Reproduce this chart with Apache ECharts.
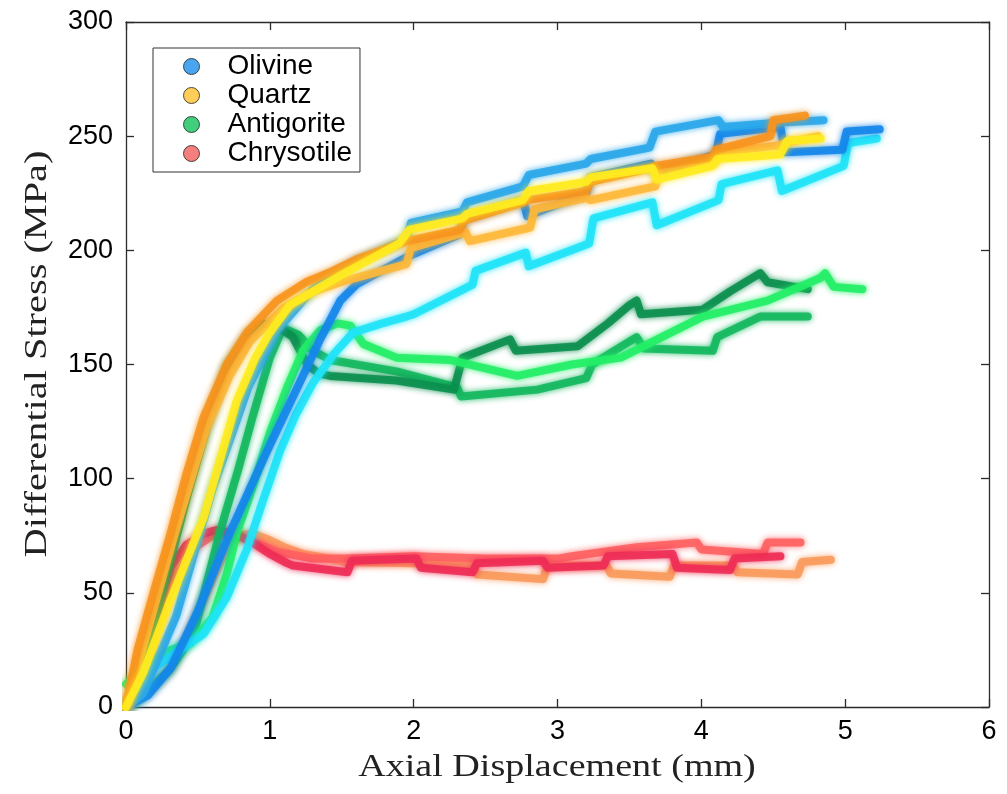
<!DOCTYPE html>
<html>
<head>
<meta charset="utf-8">
<script src="https://cdn.jsdelivr.net/npm/echarts@6/dist/echarts.min.js"></script>
<style>html,body{margin:0;padding:0;background:#fff;}#c{width:1007px;height:794px;}</style>
</head>
<body>
<div id="c"></div>
<script>
// ---- data (x: axial displacement mm, y: differential stress MPa) ----
const xTicks = [0, 1, 2, 3, 4, 5, 6];
const yTicks = [0, 50, 100, 150, 200, 250, 300];
const legendNames = ['Olivine', 'Quartz', 'Antigorite', 'Chrysotile'];
const legendColors = ['#1B8EEB', '#FFC22E', '#12C25C', '#F0605E'];
const xTitle = 'Axial Displacement (mm)';
const yTitle = 'Differential Stress (MPa)';

const olivineA = [[0,0],[0.12,6],[0.35,40],[0.6,95],[0.85,140],[1.05,165],[1.3,183],[1.6,195],[1.95,205],[1.98,212],[2.34,217],[2.37,221],[2.76,228],[2.8,233],[3.2,238],[3.23,240],[3.64,245],[3.68,252],[4.12,257],[4.15,254],[4.55,256],[4.85,257]];
const olivineB = [[0,0],[0.15,5],[0.31,17],[0.5,42],[0.72,76],[0.85,94],[0.98,112],[1.2,141],[1.35,161],[1.49,178],[1.6,185],[1.95,197],[2.32,207],[2.35,214],[2.76,222],[2.79,215],[3.2,225],[3.23,232],[3.65,238],[3.68,234],[4.1,242],[4.13,251],[4.55,254],[4.58,243],[4.98,244],[5.01,252],[5.24,253]];
const olivineC = [[0,0],[0.1,8],[0.19,17],[0.35,24],[0.54,32],[0.7,48],[0.84,69],[0.95,90],[1.07,112],[1.18,128],[1.3,142],[1.45,155],[1.58,164],[1.78,168],[1.95,171],[2.0,172],[2.41,185],[2.43,191],[2.78,199],[2.8,193],[3.22,203],[3.25,214],[3.66,221],[3.69,211],[4.12,222],[4.14,229],[4.53,235],[4.56,226],[4.99,237],[5.02,247],[5.22,249]];

const quartzO = [[0,0],[0.08,25],[0.2,52],[0.31,76],[0.42,102],[0.54,127],[0.7,150],[0.84,164],[1.05,178],[1.25,186],[1.44,191],[1.6,196],[1.95,204],[2.32,209],[2.35,213],[2.76,221],[2.79,222],[3.2,226],[3.23,230],[3.65,236],[3.68,237],[4.08,241],[4.1,244],[4.48,250],[4.5,257],[4.72,259]];
const quartzG = [[0,0],[0.1,22],[0.33,74],[0.56,122],[0.72,145],[0.86,160],[1.1,175],[1.3,182],[1.54,187],[1.95,194],[1.98,201],[2.36,208],[2.39,204],[2.81,210],[2.84,218],[3.2,223],[3.23,222],[3.68,228],[3.71,235],[4.1,239],[4.13,243],[4.55,246],[4.58,247],[4.81,250]];
const quartzY = [[0,0],[0.12,15],[0.31,47],[0.54,83],[0.77,134],[0.9,153],[1.0,164],[1.14,176],[1.49,189],[1.9,203],[1.97,209],[2.34,214],[2.37,216],[2.76,222],[2.8,226],[3.2,230],[3.23,232],[3.66,236],[3.69,231],[4.08,237],[4.11,240],[4.55,242],[4.6,248],[4.83,249]];

const antigoriteD = [[0,0],[0.08,10],[0.25,50],[0.42,91],[0.56,122],[0.7,149],[0.85,163],[0.95,168],[1.05,167],[1.16,162],[1.26,150],[1.34,146],[1.42,145],[1.88,143],[2.28,139],[2.34,153],[2.67,161],[2.71,156],[3.14,158],[3.35,168],[3.5,176],[3.55,178],[3.58,172],[4.01,174],[4.2,182],[4.41,190],[4.46,186],[4.74,183]];
const antigoriteM = [[0,0],[0.1,4],[0.3,16],[0.47,32],[0.65,76],[0.78,104],[0.88,127],[1.0,153],[1.09,166],[1.2,163],[1.3,156],[1.42,152],[1.88,147],[2.3,140],[2.33,136],[2.86,139],[3.2,144],[3.24,150],[3.55,162],[3.6,157],[4.08,156],[4.11,162],[4.41,171],[4.74,171]];
const antigoriteB = [[0,10],[0.15,18],[0.31,25],[0.45,28],[0.6,39],[0.7,58],[0.77,76],[0.9,100],[1.0,120],[1.12,140],[1.23,156],[1.35,165],[1.47,168],[1.56,167],[1.65,159],[1.88,153],[2.25,152],[2.72,145],[3.1,150],[3.44,153],[4.01,171],[4.46,178],[4.83,188],[4.86,190],[4.92,184],[5.12,183]];

const chrysotileR = [[0,0],[0.08,10],[0.2,38],[0.31,61],[0.42,71],[0.54,76],[0.63,77.5],[0.75,76],[0.88,72],[1.0,67],[1.12,63],[1.16,62],[1.54,59],[1.57,64],[2.02,65],[2.05,61],[2.41,59],[2.44,63],[2.9,64],[2.93,61],[3.32,62],[3.35,66],[3.8,67],[3.83,61],[4.2,60],[4.23,65],[4.55,66]];
const chrysotileC = [[0,0],[0.1,8],[0.22,35],[0.35,58],[0.48,70],[0.6,75],[0.75,76],[0.9,72],[1.05,68],[1.3,65],[1.54,65],[2.0,66],[2.5,65],[3.0,65],[3.1,66],[3.55,70],[3.97,72],[4.0,69],[4.43,67],[4.46,72],[4.69,72]];
const chrysotileO = [[0,0],[0.15,7],[0.31,17],[0.42,30],[0.54,47],[0.63,60],[0.72,72],[0.8,75],[0.88,76],[1.0,73],[1.1,70],[1.23,67],[1.54,63.5],[2.0,63],[2.41,62],[2.44,58],[2.9,56],[2.93,62],[3.34,62],[3.37,58.5],[3.78,57],[3.81,62],[4.22,62],[4.25,59],[4.67,58],[4.7,63.5],[4.9,64.5]];

// ---- chart ----
const curves = [
  {id:'chrysotile-o', data: chrysotileO, color:'#FA9A5C'},
  {id:'chrysotile-c', data: chrysotileC, color:'#FF6262'},
  {id:'chrysotile-r', data: chrysotileR, color:'#EE2C55'},
  {id:'antigorite-m', data: antigoriteM, color:'#13B85E'},
  {id:'antigorite-d', data: antigoriteD, color:'#0A8F4E'},
  {id:'antigorite-b', data: antigoriteB, color:'#22EE66'},
  {id:'olivine-c', data: olivineC, color:'#1FE3F7'},
  {id:'olivine-b', data: olivineB, color:'#1486EA'},
  {id:'olivine-a', data: olivineA, color:'#2AA7EA'},
  {id:'quartz-g', data: quartzG, color:'#FDB83A'},
  {id:'quartz-o', data: quartzO, color:'#F7931E'},
  {id:'quartz-y', data: quartzY, color:'#FFEB1F'}
];

const axisColor = '#2b2b2b';
const series = curves.map(c => ({
  name: c.id, type: 'line', data: c.data, showSymbol: false, symbol: 'none',
  silent: true, animation: false,
  lineStyle: {color: c.color, width: 8, opacity: 0.9, shadowBlur: 6, shadowColor: c.color, cap: 'round', join: 'round'},
  itemStyle: {color: c.color}
}));
legendNames.forEach((n, i) => series.push({
  name: n, type: 'scatter', data: [], itemStyle: {color: legendColors[i]}
}));

const chart = echarts.init(document.getElementById('c'), null, {renderer: 'canvas'});
const baseAxis = {
  type: 'value',
  axisLine: {show: true, onZero: false, lineStyle: {color: axisColor, width: 1.3}},
  axisTick: {show: true, inside: true, length: 8, lineStyle: {color: axisColor, width: 1.3}},
  splitLine: {show: false}
};
const titleFont = 'Liberation Serif';
chart.setOption({
  animation: false,
  backgroundColor: '#fff',
  grid: {left: 126, right: 18, top: 22, bottom: 87, containLabel: false},
  legend: {
    data: legendNames, orient: 'vertical', left: 153, top: 48,
    icon: 'circle', itemWidth: 16, itemHeight: 16, itemGap: 0,
    backgroundColor: '#fff', borderColor: '#333', borderWidth: 1, borderRadius: 0,
    padding: [4, 8, 4, 30],
    itemStyle: {borderColor: '#222', borderWidth: 1},
    textStyle: {fontFamily: 'Liberation Sans', fontSize: 28, color: '#000', lineHeight: 29, padding: [0, 0, 0, 23]},
    selectedMode: false
  },
  graphic: [
    {type: 'text', x: 557, y: 768, scaleX: 1.19, silent: true,
      style: {text: xTitle, font: '32px "' + titleFont + '"', fill: '#222', textAlign: 'center', textVerticalAlign: 'middle'}},
    {type: 'text', x: 38, y: 354, rotation: Math.PI / 2, scaleX: 1.26, silent: true,
      style: {text: yTitle, font: '32px "' + titleFont + '"', fill: '#222', textAlign: 'center', textVerticalAlign: 'middle'}}
  ],
  xAxis: [
    Object.assign({}, baseAxis, {
      min: 0, max: 6, interval: 1, position: 'bottom',
      axisLabel: {fontFamily: 'Liberation Sans', fontSize: 27, color: '#000', margin: 11,
        formatter: v => xTicks.includes(v) ? String(v) : ''}
    }),
    Object.assign({}, baseAxis, {min: 0, max: 6, interval: 1, position: 'top', axisLabel: {show: false}})
  ],
  yAxis: [
    Object.assign({}, baseAxis, {
      min: 0, max: 300, interval: 50, position: 'left',
      axisLabel: {fontFamily: 'Liberation Sans', fontSize: 27, color: '#000', margin: 13,
        formatter: v => yTicks.includes(v) ? String(v) : ''}
    }),
    Object.assign({}, baseAxis, {min: 0, max: 300, interval: 50, position: 'right', axisLabel: {show: false}})
  ],
  series: series
});
</script>
</body>
</html>
